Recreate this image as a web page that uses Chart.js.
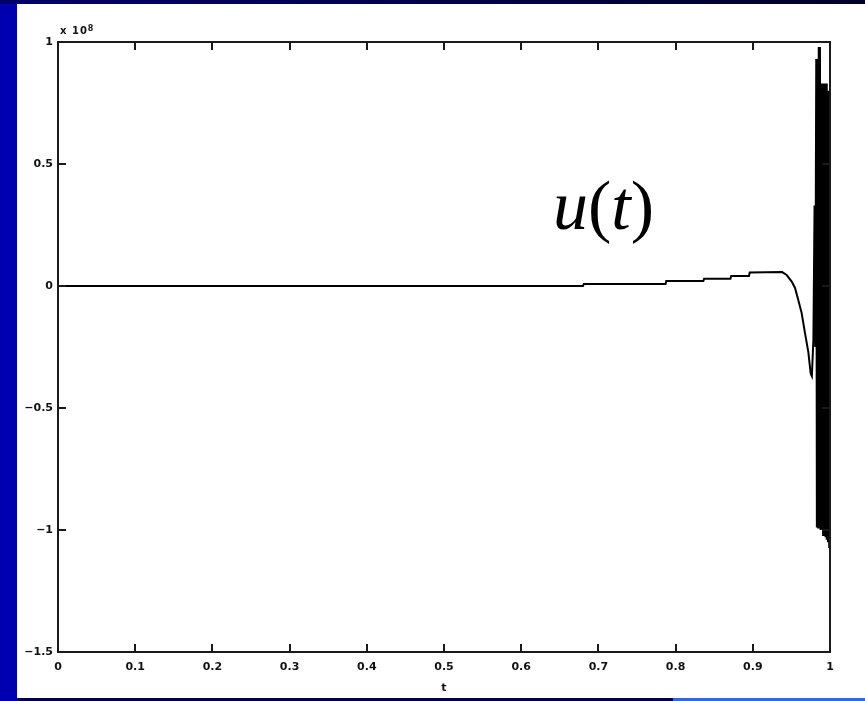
<!DOCTYPE html>
<html>
<head>
<meta charset="utf-8">
<script src="https://cdn.jsdelivr.net/npm/chart.js@4/dist/chart.umd.min.js"></script>
<style>
  html, body { margin:0; padding:0; }
  body { width:865px; height:701px; overflow:hidden; position:relative; background:#0000b0; }
  #topstrip { position:absolute; left:0; top:0; width:865px; height:4px; background:linear-gradient(to right,#00006a,#000028); }
  #botleft { position:absolute; left:17px; top:698px; width:656px; height:3px; background:#00004a; }
  #botright { position:absolute; left:673px; top:698px; width:192px; height:3px; background:#3366e0; }
  #panel { position:absolute; left:17px; top:4px; width:848px; height:694px; background:#ffffff; }
  #wrap { position:absolute; left:17px; top:4px; width:848px; height:694px; }
  #ut { position:absolute; left:553px; top:171px; font-family:"Liberation Serif","Times New Roman",serif; font-size:70px; line-height:70px; color:#000; white-space:nowrap; }
  #ut i { font-style:italic; }
  #expo { position:absolute; left:60px; top:25px; font-family:"DejaVu Sans",sans-serif; font-weight:bold; font-size:10px; line-height:12px; color:#111; white-space:nowrap; letter-spacing:1px; }
  #expo sup { font-size:8px; position:relative; top:-3px; vertical-align:baseline; }
</style>
</head>
<body>
<div id="topstrip"></div>
<div id="botleft"></div>
<div id="botright"></div>
<div id="panel"></div>
<div id="wrap"><canvas id="c" width="848" height="694"></canvas></div>
<div id="expo">x 10<sup>8</sup></div>
<div id="ut"><i>u</i>(<i>t</i>)</div>
<script>
// ---- data ----
const tValues = [
  0, 0.680, 0.681, 0.787, 0.788, 0.836, 0.837, 0.871, 0.872, 0.895, 0.896, 0.938,
  0.9439, 0.9504, 0.9547, 0.9589, 0.9633, 0.9676, 0.9719, 0.9750, 0.9765, 0.9785,
  0.9800, 0.9810, 0.9822, 0.9830, 0.9838, 0.9846, 0.9854, 0.9862, 0.9870, 0.9878,
  0.9886, 0.9894, 0.9902, 0.9910, 0.9918, 0.9926, 0.9934, 0.9942, 0.9950, 0.9958,
  0.9966, 0.9974, 0.9982, 0.9990, 0.9996, 1.0
];
const uValues = [
  0, 0, 0.008, 0.008, 0.021, 0.021, 0.030, 0.030, 0.041, 0.041, 0.055, 0.057,
  0.045, 0.018, -0.008, -0.057, -0.111, -0.193, -0.270, -0.360, -0.370, -0.220,
  0.330, -0.250, 0.930, -0.990, 0.870, -0.990, 0.980, -0.990, 0.980, -1.000,
  0.830, -1.000, 0.830, -1.020, 0.830, -1.020, 0.830, -1.030, 0.830, -1.040,
  0.800, -1.050, 0.800, -1.070, 0.500, -1.070
];
const xTickLabels = ['0','0.1','0.2','0.3','0.4','0.5','0.6','0.7','0.8','0.9','1'];
const yTickLabels = ['\u22121.5','\u22121','\u22120.5','0','0.5','1'];
const xAxisTitle = 't';

const points = tValues.map((t, i) => ({ x: t, y: uValues[i] }));

const boxTicks = {
  id: 'boxTicks',
  afterDraw(chart) {
    const ctx = chart.ctx, a = chart.chartArea;
    const xs = chart.scales.x, ys = chart.scales.y;
    ctx.save();
    ctx.strokeStyle = '#1a1a1a';
    ctx.lineWidth = 2;
    ctx.beginPath();
    xs.ticks.forEach(tk => {
      const px = Math.round(xs.getPixelForValue(tk.value));
      ctx.moveTo(px, a.bottom); ctx.lineTo(px, a.bottom - 8);
      ctx.moveTo(px, a.top); ctx.lineTo(px, a.top + 8);
    });
    ys.ticks.forEach(tk => {
      const py = Math.round(ys.getPixelForValue(tk.value));
      ctx.moveTo(a.left, py); ctx.lineTo(a.left + 8, py);
      ctx.moveTo(a.right, py); ctx.lineTo(a.right - 8, py);
    });
    ctx.stroke();
    ctx.strokeRect(a.left, a.top, a.right - a.left, a.bottom - a.top);
    ctx.restore();
  }
};

const tickFont = { family: '"DejaVu Sans", sans-serif', size: 11, weight: 'bold' };

new Chart(document.getElementById('c'), {
  type: 'scatter',
  data: {
    datasets: [{
      data: points,
      showLine: true,
      borderColor: '#000',
      borderWidth: 2,
      pointRadius: 0,
      tension: 0,
      fill: false
    }]
  },
  options: {
    responsive: false,
    animation: false,
    events: [],
    layout: { padding: { left: 0, top: 38, right: 35, bottom: 0 } },
    plugins: { legend: { display: false }, tooltip: { enabled: false } },
    scales: {
      x: {
        type: 'linear', min: 0, max: 1,
        grid: { display: true, drawOnChartArea: false, drawTicks: false },
        border: { display: false },
        ticks: { stepSize: 0.1, padding: 9, color: '#111', font: tickFont, maxRotation: 0, autoSkip: false,
                 callback: (v, i) => xTickLabels[i] },
        title: { display: true, text: xAxisTitle, color: '#111', font: tickFont, padding: { top: 0, bottom: 3 } },
        afterFit: s => { s.height = 46; }
      },
      y: {
        type: 'linear', min: -1.5, max: 1,
        grid: { display: true, drawOnChartArea: false, drawTicks: false },
        border: { display: false },
        ticks: { stepSize: 0.5, padding: 5, color: '#111', font: tickFont, autoSkip: false,
                 callback: (v, i) => yTickLabels[i] },
        afterFit: s => { s.width = 41; }
      }
    }
  },
  plugins: [boxTicks]
});
</script>
</body>
</html>
